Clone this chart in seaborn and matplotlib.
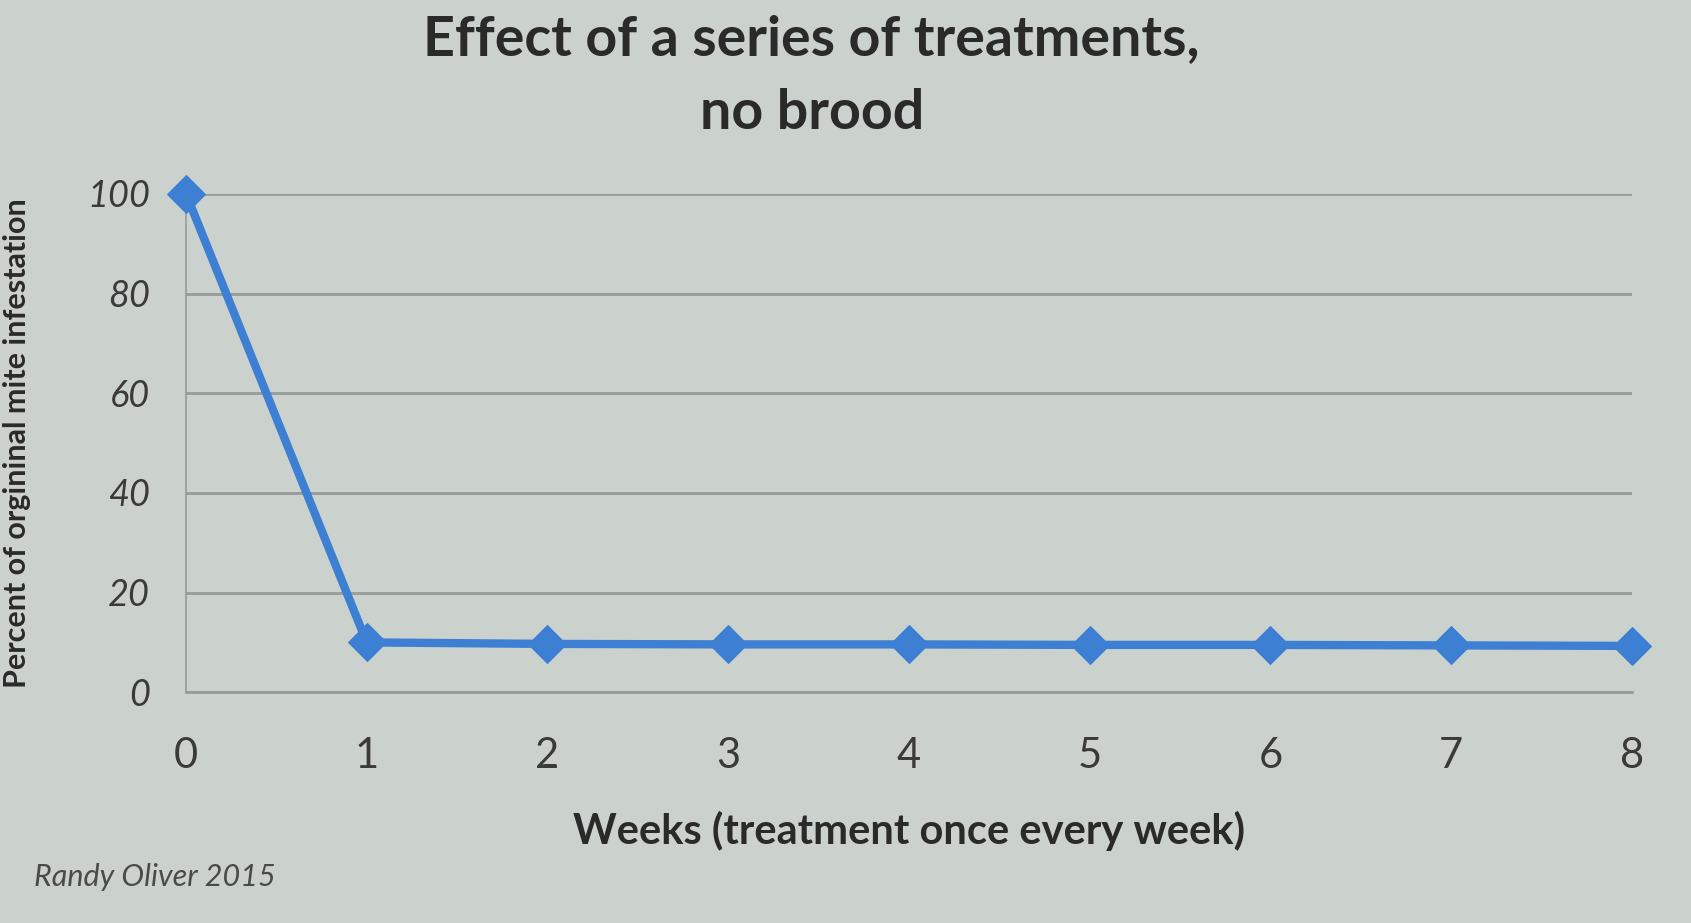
import matplotlib
matplotlib.use("Agg")
import matplotlib.pyplot as plt
import seaborn as sns
import pandas as pd

# values (week 0 = before treatment)
weeks = [0, 1, 2, 3, 4, 5, 6, 7, 8]
percent_left = [100, 10.0, 9.7, 9.6, 9.6, 9.5, 9.5, 9.4, 9.3]
y_ticks = [0, 20, 40, 60, 80, 100]

df = pd.DataFrame({"Week": weeks, "Percent": percent_left})

sns.set_theme(style="white")
plt.rcParams["font.family"] = ["Lato", "DejaVu Sans"]

bg = "#cbd2ce"
grid_col = "#979b99"
blue = "#3d7fd3"

fig = plt.figure(figsize=(16.91, 9.23), dpi=100, facecolor=bg)
ax = fig.add_axes([0.11, 0.25, 0.855, 0.54])
ax.set_facecolor(bg)

sns.lineplot(data=df, x="Week", y="Percent", ax=ax, color=blue, linewidth=6,
             marker="D", markersize=19, markeredgecolor=blue, clip_on=False, zorder=3)

ax.set_xlim(0, 8)
ax.set_ylim(0, 100)
ax.set_yticks(y_ticks)
ax.set_xticks(weeks)
ax.yaxis.grid(True, color=grid_col, linewidth=2)
ax.xaxis.grid(False)
for s in ["top", "right"]:
    ax.spines[s].set_visible(False)
ax.spines["left"].set_color(grid_col)
ax.spines["left"].set_linewidth(1.2)
ax.spines["bottom"].set_color(grid_col)
ax.spines["bottom"].set_linewidth(2)

ax.tick_params(axis="y", length=12, width=2, color=grid_col, pad=14,
               labelsize=26, labelcolor="#3a3a3a")
ax.tick_params(axis="x", length=10, width=1.2, color=grid_col, pad=22,
               labelsize=30, labelcolor="#3a3a3a")
for lab in ax.get_yticklabels():
    lab.set_fontstyle("italic")

ax.set_xlabel("Weeks (treatment once every week)", fontsize=30, fontweight="bold",
              color="#2a2a2a", labelpad=26)
ax.set_ylabel("Percent of orgininal mite infestation", fontsize=22, fontweight="bold",
              color="#2a2a2a", labelpad=40)

fig.text(0.48, 0.985, "Effect of a series of treatments,", ha="center", va="top",
         fontsize=40, fontweight="bold", color="#2a2a2a")
fig.text(0.48, 0.905, "no brood", ha="center", va="top",
         fontsize=40, fontweight="bold", color="#2a2a2a")

fig.text(0.02, 0.035, "Randy Oliver 2015", ha="left", va="bottom",
         fontsize=22, fontstyle="italic", color="#4a4a4a")

fig.savefig("out.png", dpi=100, facecolor=bg)
